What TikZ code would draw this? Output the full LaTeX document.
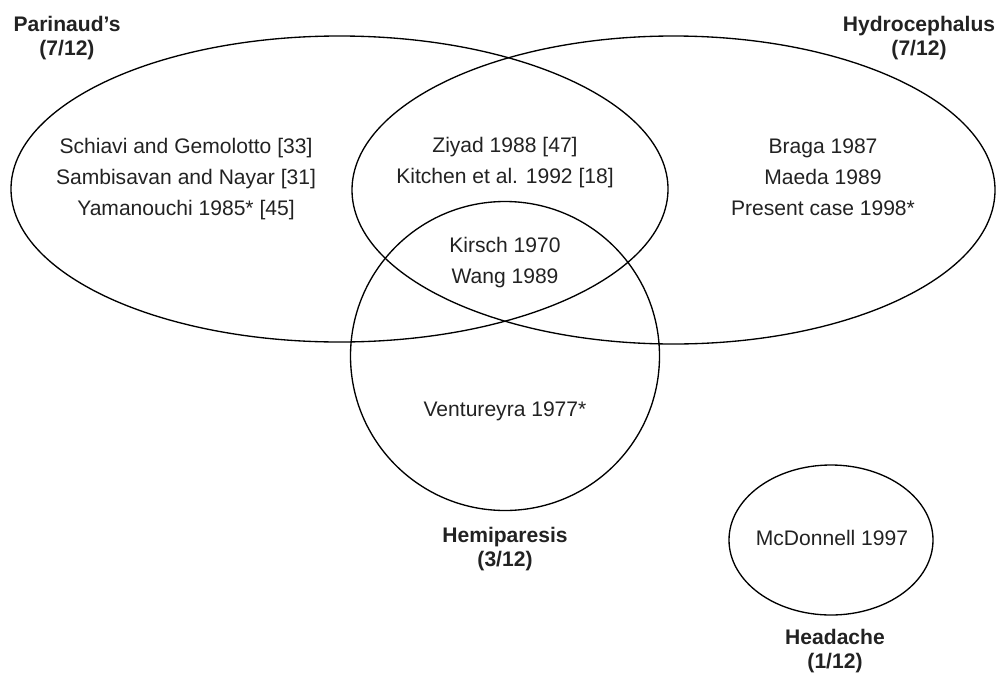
\documentclass[tikz,border=0pt]{standalone}
\usepackage{fontspec}
\setmainfont{Liberation Sans}
\usepackage{xcolor}
\usetikzlibrary{shapes.geometric}
\definecolor{inkgray}{HTML}{222222}
\tikzset{
	setring/.style={draw=black, line width=1pt, ellipse, inner sep=0pt},
	cases/.style={text=inkgray, align=center, font=\fontsize{15.8}{23.3}\selectfont},
	setname/.style={text=inkgray, align=center, font=\fontsize{15.8}{18.5}\selectfont\bfseries}
}

\begin{document}
\begin{tikzpicture}[x=0.75pt, y=-0.75pt]
			\useasboundingbox (0, 0) rectangle (996, 675);

			\node[setring, minimum width=657pt*0.75, minimum height=306pt*0.75] (parinaud) at (339.5, 189) {};
			\node[setring, minimum width=643pt*0.75, minimum height=308pt*0.75] (hydro) at (673.5, 190) {};
			\node[setring, circle, minimum size=309pt*0.75] (hemi) at (505, 356) {};
			\node[setring, minimum width=204pt*0.75, minimum height=150pt*0.75] (headache) at (831, 540) {};

			\node[setname]	(parinaudname)	at (67, 38)	{Parinaud’s\\(7/12)};
			\node[setname]	(hydroname)		at (919, 38)	{Hydrocephalus\\(7/12)};
			\node[setname]	(heminame)		at (505, 549)	{Hemiparesis\\(3/12)};
			\node[setname]	(headachename)	at (835, 651)	{Headache\\(1/12)};

			\node[cases]	(onlyparinaud)	at (186, 179)	{Schiavi and Gemolotto [33]\\Sambisavan and Nayar [31]\\Yamanouchi 1985* [45]};
			\node[cases]	(parhydro)		at (505, 163)	{Ziyad 1988 [47]\\Kitchen et al. 1992 [18]};
			\node[cases]	(allthree)		at (505, 263)	{Kirsch 1970\\Wang 1989};
			\node[cases]	(onlyhydro)		at (823, 177)	{Braga 1987\\Maeda 1989\\Present case 1998*};
			\node[cases]	(onlyhemi)		at (505, 411)	{Ventureyra 1977*};
			\node[cases]	(onlyheadache)	at (832, 538)	{McDonnell 1997};
		\end{tikzpicture}
\end{document}
